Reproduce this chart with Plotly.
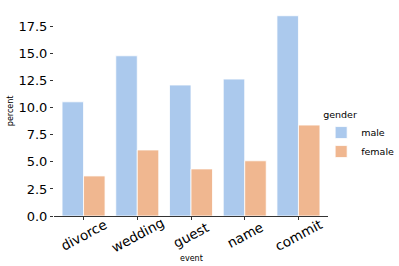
import plotly.graph_objects as go

events = ["divorce", "wedding", "guest", "name", "commit"]
male = [10.55, 14.8, 12.1, 12.65, 18.5]
female = [3.7, 6.1, 4.35, 5.1, 8.4]
ytick_vals = [0, 2.5, 5, 7.5, 10, 12.5, 15, 17.5]
ytick_text = ["0.0", "2.5", "5.0", "7.5", "10.0", "12.5", "15.0", "17.5"]

male_color = "#abc9ed"
female_color = "#f0b790"

fig = go.Figure()
fig.add_trace(go.Bar(x=events, y=male, name="male", marker=dict(color=male_color, line=dict(color="white", width=0.8))))
fig.add_trace(go.Bar(x=events, y=female, name="female", marker=dict(color=female_color, line=dict(color="white", width=0.8))))

annotations = [
    dict(text="event", x=0.5, y=-0.17, xref="paper", yref="paper", xanchor="center", yanchor="top",
         showarrow=False, font=dict(size=8)),
    dict(text="percent", x=-0.16, y=0.5, xref="paper", yref="paper", xanchor="center", yanchor="middle",
         textangle=-90, showarrow=False, font=dict(size=8)),
]
for ev in events:
    annotations.append(dict(text=ev, x=ev, y=0, xref="x", yref="y", xanchor="center", yanchor="middle",
                            yshift=-19, textangle=-28, showarrow=False, font=dict(size=13.5)))

fig.update_layout(
    width=399, height=266,
    margin=dict(l=54, r=71, t=6, b=50, autoexpand=False),
    paper_bgcolor="white", plot_bgcolor="white",
    barmode="group", bargap=0.2, bargroupgap=0,
    font=dict(family="DejaVu Sans", color="black"),
    legend=dict(
        title=dict(text="gender", side="top", font=dict(size=9.5)),
        font=dict(size=9.5), x=0.975, y=0.38, xanchor="left", yanchor="middle",
        itemwidth=30, tracegroupgap=0, bgcolor="rgba(0,0,0,0)",
    ),
    annotations=annotations,
)
fig.update_xaxes(
    automargin=False,
    showline=True, linecolor="#333", linewidth=1,
    ticks="outside", ticklen=3, tickcolor="#333",
    showticklabels=False,
    showgrid=False, range=[-0.55, 4.55],
)
fig.update_yaxes(
    automargin=False,
    showline=False, ticks="outside", ticklen=3, tickcolor="#333",
    tickvals=ytick_vals, ticktext=ytick_text,
    tickfont=dict(size=13), showgrid=False, zeroline=False,
    range=[0, 19.4],
)

fig.write_html("out.html", post_script="document.body.style.margin='0';",
               config={"displayModeBar": False})
